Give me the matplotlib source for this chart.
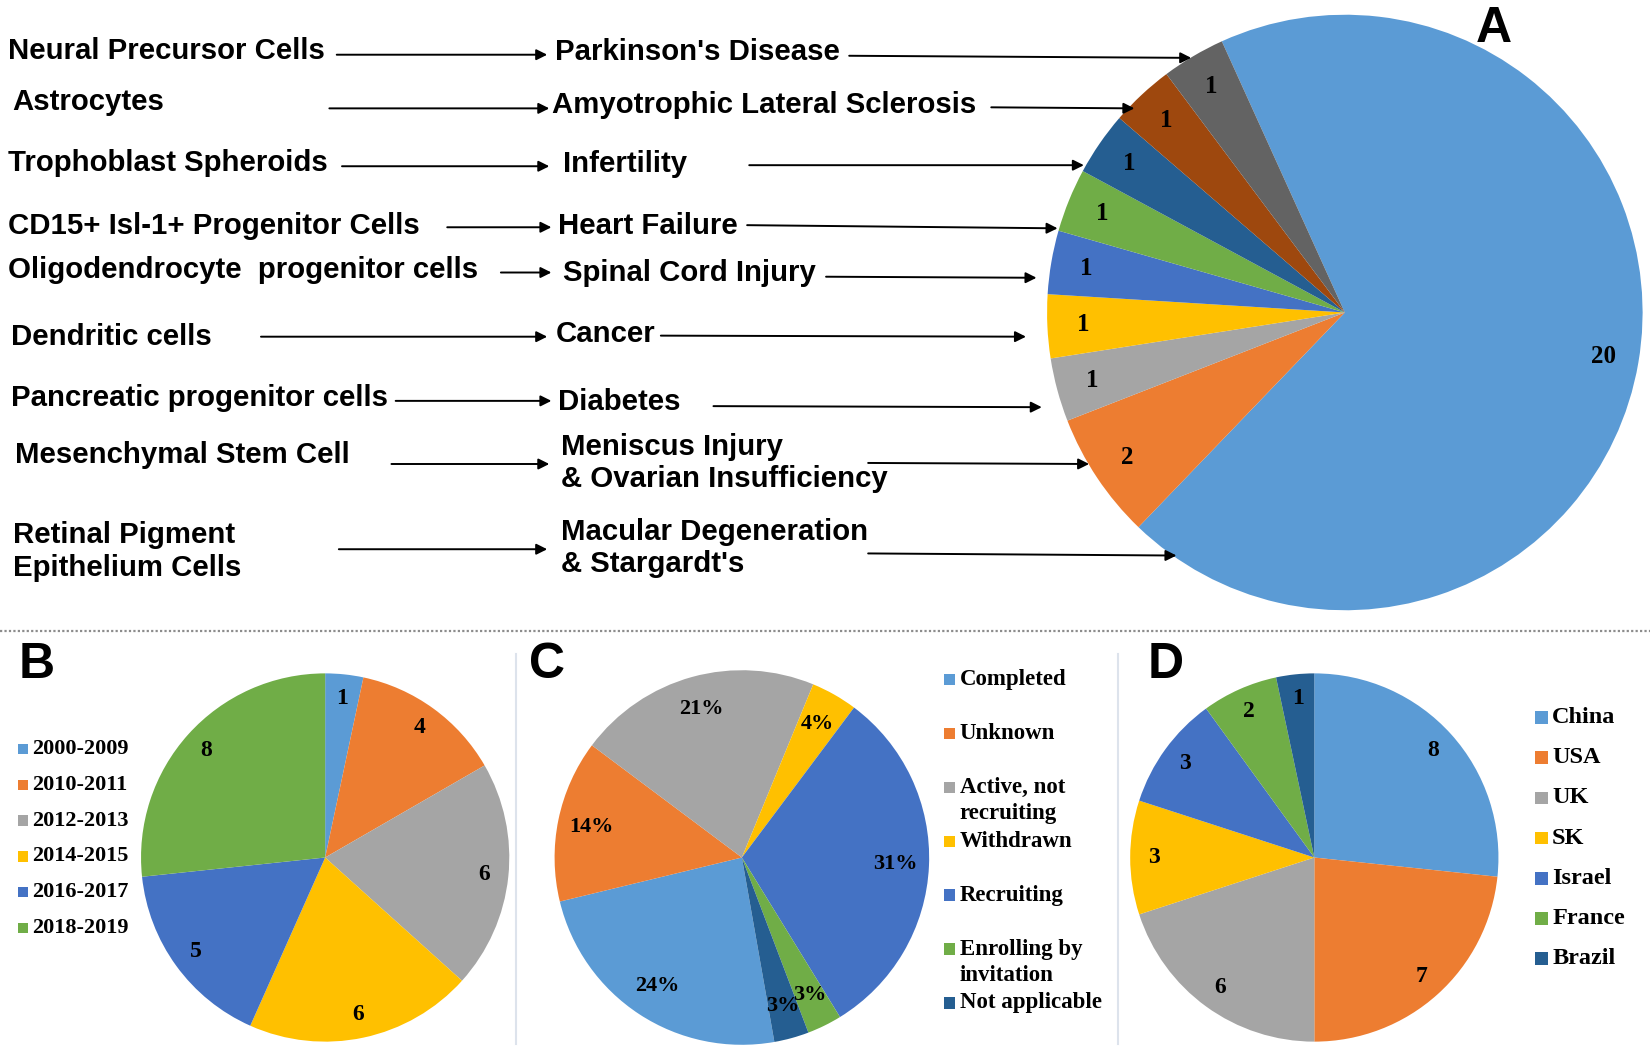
import matplotlib

matplotlib.use("Agg")
import matplotlib.pyplot as plt
from matplotlib.patches import Rectangle

# ---- data -------------------------------------------------------------
# panel A: cell source -> indication, number of trials (top to bottom)
a_cells = [
    "Neural Precursor Cells",
    "Astrocytes",
    "Trophoblast Spheroids",
    "CD15+ Isl-1+ Progenitor Cells",
    "Oligodendrocyte  progenitor cells",
    "Dendritic cells",
    "Pancreatic progenitor cells",
    "Mesenchymal Stem Cell",
    "Retinal Pigment\nEpithelium Cells",
]
a_diseases = [
    "Parkinson's Disease",
    "Amyotrophic Lateral Sclerosis",
    "Infertility",
    "Heart Failure",
    "Spinal Cord Injury",
    "Cancer",
    "Diabetes",
    "Meniscus Injury\n& Ovarian Insufficiency",
    "Macular Degeneration\n& Stargardt's",
]
a_counts = [1, 1, 1, 1, 1, 1, 1, 2, 20]

# panel B: trials by registration period
b_labels = ["2000-2009", "2010-2011", "2012-2013", "2014-2015", "2016-2017", "2018-2019"]
b_values = [1, 4, 6, 6, 5, 8]

# panel C: trial status (%)
c_labels = ["Completed", "Unknown", "Active, not\nrecruiting", "Withdrawn",
            "Recruiting", "Enrolling by\ninvitation", "Not applicable"]
c_values = [24, 14, 21, 4, 31, 3, 3]

# panel D: trials by country
d_labels = ["China", "USA", "UK", "SK", "Israel", "France", "Brazil"]
d_values = [8, 7, 6, 3, 3, 2, 1]

# excel-like palette
xl = ["#5B9BD5", "#ED7D31", "#A5A5A5", "#FFC000", "#4472C4", "#70AD47",
      "#255E91", "#9E480E", "#636363"]

# ---- layout helpers (positions measured on a 1568 x 997 grid) --------
W0, H0 = 1568, 997
SANS = "Liberation Sans"
SERIF = "Liberation Serif"

fig = plt.figure(figsize=(16.5, 10.49), dpi=100)


def pie_axes(cx, cy, r):
    ax = fig.add_axes([(cx - r) / W0, 1 - (cy + r) / H0, 2 * r / W0, 2 * r / H0])
    ax.set_axis_off()
    return ax


def count_fmt(values):
    total = sum(values)
    return lambda p: f"{round(p * total / 100)}"


num_font = dict(family=SERIF, weight="bold", color="black")

# ---- panel A ----------------------------------------------------------
axA = pie_axes(1278, 297, 283)
axA.pie(a_counts[::-1], colors=xl, startangle=114.4, counterclock=False,
        autopct=count_fmt(a_counts), pctdistance=0.88,
        wedgeprops=dict(linewidth=0),
        textprops=dict(fontsize=18, **num_font))

# ---- panel B ----------------------------------------------------------
axB = pie_axes(309, 815, 175)
axB.pie(b_values, colors=xl[:6], startangle=90, counterclock=False,
        autopct=count_fmt(b_values), pctdistance=0.87,
        wedgeprops=dict(linewidth=0),
        textprops=dict(fontsize=17, **num_font))

# ---- panel C ----------------------------------------------------------
c_colors = [xl[0], xl[1], xl[2], xl[3], xl[4], xl[5], xl[6]]
axC = pie_axes(705, 815, 178)
axC.pie(c_values, colors=c_colors, startangle=280, counterclock=False,
        autopct="%.0f%%", pctdistance=0.82,
        wedgeprops=dict(linewidth=0),
        textprops=dict(fontsize=16, **num_font))

# ---- panel D ----------------------------------------------------------
d_colors = [xl[0], xl[1], xl[2], xl[3], xl[4], xl[5], xl[6]]
axD = pie_axes(1249, 815, 175)
axD.pie(d_values, colors=d_colors, startangle=90, counterclock=False,
        autopct=count_fmt(d_values), pctdistance=0.87,
        wedgeprops=dict(linewidth=0),
        textprops=dict(fontsize=17, **num_font))

for ax in (axA, axB, axC, axD):
    ax.set_xlim(-1.0, 1.0)
    ax.set_ylim(-1.0, 1.0)

# ---- overlay: texts, arrows, legends, separators ----------------------
ov = fig.add_axes([0, 0, 1, 1])
ov.set_xlim(0, W0)
ov.set_ylim(H0, 0)
ov.set_axis_off()
ov.patch.set_alpha(0)

txt = dict(family=SANS, weight="bold", fontsize=21.2, color="black", va="center", ha="left")

cell_pos = [(8, 48), (12, 97), (8, 155), (8, 215), (8, 257), (10, 320),
            (10, 378), (14, 432), (12, 524)]
dis_pos = [(527, 49), (525, 100), (535, 156), (530, 215), (535, 259),
           (528, 317), (530, 382), (533, 440), (533, 521)]
arrow1 = [(320, 520, 52), (313, 522, 103), (325, 522, 158), (425, 524, 216),
          (476, 524, 259), (248, 520, 320), (376, 524, 381), (372, 522, 441),
          (322, 520, 522)]
arrow2 = [(807, 53, 1132, 55), (942, 102, 1078, 103), (712, 157, 1030, 157),
          (710, 214, 1005, 217), (785, 263, 985, 264), (628, 319, 975, 320),
          (678, 386, 990, 387), (825, 440, 1035, 441), (825, 526, 1118, 528)]

arrow_style = dict(arrowstyle="-|>", color="black", lw=1.4, mutation_scale=16,
                   shrinkA=0, shrinkB=0)

for name, (x, y) in zip(a_cells, cell_pos):
    ov.text(x, y, name, linespacing=1.25, **txt)
for name, (x, y) in zip(a_diseases, dis_pos):
    ov.text(x, y, name, linespacing=1.2, **txt)
for x0, x1, y in arrow1:
    ov.annotate("", xy=(x1, y), xytext=(x0, y), arrowprops=arrow_style)
for x0, y0, x1, y1 in arrow2:
    ov.annotate("", xy=(x1, y1), xytext=(x0, y0), arrowprops=arrow_style)

# panel letters
letter = dict(family=SANS, weight="bold", fontsize=36, color="black",
              ha="center", va="center")
ov.text(1420, 28, "A", **letter)
ov.text(35, 632, "B", **letter)
ov.text(520, 632, "C", **letter)
ov.text(1108, 632, "D", **letter)

# separators
ov.plot([0, W0], [600, 600], color="#8c8c8c", lw=1.6, ls=(0, (1, 1)))
ov.plot([490, 490], [622, 992], color="#dde3ec", lw=1.5)
ov.plot([1062, 1062], [622, 992], color="#dde3ec", lw=1.5)


def draw_legend(labels, colors, x, y0, step, box, fs, line_gap):
    for i, (lab, col) in enumerate(zip(labels, colors)):
        y = y0 + i * step
        ov.add_patch(Rectangle((x, y - box / 2), box, box, color=col, lw=0))
        for k, line in enumerate(lab.split("\n")):
            ov.text(x + box + 4, y + k * line_gap, line, family=SERIF,
                    weight="bold", fontsize=fs, va="center", ha="left")


draw_legend(b_labels, xl[:6], 17, 712, 34, 10, 16, 25)
draw_legend(c_labels, c_colors, 897, 646, 51.2, 11, 16.5, 25)
draw_legend(d_labels, d_colors, 1459, 682, 38.2, 12, 17.5, 25)

fig.savefig("out.png", dpi=100)
plt.close(fig)
